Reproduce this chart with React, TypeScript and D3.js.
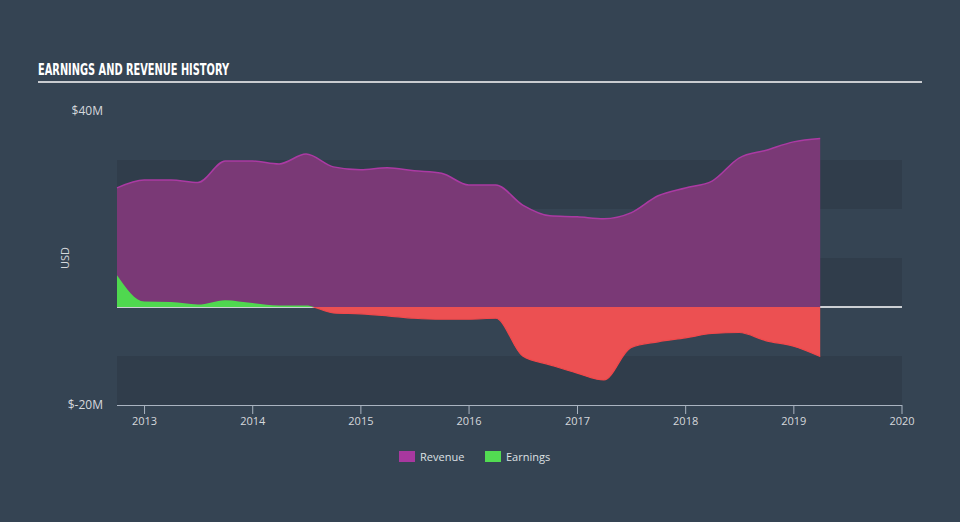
import React from "react";
import * as d3 from "d3";

const dates = [
  "2012-09-30", "2012-12-31", "2013-03-31", "2013-06-30", "2013-09-30", "2013-12-31",
  "2014-03-31", "2014-06-30", "2014-09-30", "2014-12-31", "2015-03-31", "2015-06-30",
  "2015-09-30", "2015-12-31", "2016-03-31", "2016-06-30", "2016-09-30", "2016-12-31",
  "2017-03-31", "2017-06-30", "2017-09-30", "2017-12-31", "2018-03-31", "2018-06-30",
  "2018-09-30", "2018-12-31", "2019-03-31",
];
const revenue = [
  24.3, 25.9, 25.9, 25.4, 29.8, 29.8, 29.2, 31.2, 28.6, 28.0, 28.4, 27.8, 27.3, 24.9,
  24.9, 20.8, 18.6, 18.4, 18.0, 19.2, 22.7, 24.3, 25.7, 30.4, 32.0, 33.7, 34.4,
];
const earnings = [
  6.5, 1.1, 1.0, 0.5, 1.4, 0.8, 0.3, 0.3, -1.2, -1.4, -1.8, -2.3, -2.5, -2.5, -2.3,
  -10.0, -11.8, -13.5, -14.9, -8.3, -7.1, -6.3, -5.4, -5.2, -6.9, -8.0, -10.1,
];
const yTickLabels = [
  { v: 40, t: "$40M" },
  { v: -20, t: "$-20M" },
];
const xTickYears = [2013, 2014, 2015, 2016, 2017, 2018, 2019, 2020];
const legendItems = [
  { name: "Revenue", color: "#a8389f" },
  { name: "Earnings", color: "#52dc52" },
];

const W = 960;
const H = 522;
const BG = "#354453";
const BAND = "#303d4b";
const FONT = "'Open Sans', 'Noto Sans', sans-serif";

export default function App() {
  const parse = d3.timeParse("%Y-%m-%d");
  const data = dates.map((d, i) => ({
    date: parse(d) as Date,
    rev: revenue[i],
    earn: earnings[i],
  }));

  const x = d3
    .scaleTime()
    .domain([parse("2012-09-30") as Date, new Date(2020, 0, 1)])
    .range([117, 902]);
  const y = d3.scaleLinear().domain([-20, 40]).range([405, 111]);
  const y0 = y(0);

  const revArea = d3
    .area<any>()
    .x((d) => x(d.date))
    .y0(y0)
    .y1((d) => y(d.rev))
    .curve(d3.curveMonotoneX);
  const revLine = d3
    .line<any>()
    .x((d) => x(d.date))
    .y((d) => y(d.rev))
    .curve(d3.curveMonotoneX);
  const earnArea = d3
    .area<any>()
    .x((d) => x(d.date))
    .y0(y0)
    .y1((d) => y(d.earn))
    .curve(d3.curveMonotoneX);
  const earnLine = d3
    .line<any>()
    .x((d) => x(d.date))
    .y((d) => y(d.earn))
    .curve(d3.curveMonotoneX);

  const bands = [-20, -10, 0, 10, 20];

  return (
    <svg
      width={W}
      height={H}
      style={{ position: "absolute", left: 0, top: 0, display: "block" }}
    >
      <defs>
        <clipPath id="above">
          <rect x={0} y={0} width={W} height={y0} />
        </clipPath>
        <clipPath id="below">
          <rect x={0} y={y0} width={W} height={H - y0} />
        </clipPath>
      </defs>
      <rect x={0} y={0} width={W} height={H} fill={BG} />

      <text
        x={38}
        y={75}
        fill="#ffffff"
        fontFamily="'DejaVu Sans Condensed', 'Liberation Sans Narrow', 'DejaVu Sans', sans-serif"
        fontWeight="bold"
        fontSize={15}
        textLength={191}
        lengthAdjust="spacingAndGlyphs"
      >
        EARNINGS AND REVENUE HISTORY
      </text>
      <rect x={38} y={81} width={884} height={2} fill="#c9ccd0" />

      {bands.map((b, i) => (
        <rect
          key={b}
          x={117}
          y={y(b + 10)}
          width={902 - 117}
          height={y(b) - y(b + 10)}
          fill={i % 2 === 0 ? BAND : BG}
        />
      ))}

      <line x1={117} x2={902} y1={y0} y2={y0} stroke="#ffffff" strokeWidth={1.5} />

      <path d={revArea(data) || ""} fill="#7a3976" />
      <path d={revLine(data) || ""} fill="none" stroke="#ab3aa3" strokeWidth={1.5} />

      <path d={earnArea(data) || ""} fill="#4fd84f" clipPath="url(#above)" />
      <path d={earnArea(data) || ""} fill="#ec5052" clipPath="url(#below)" />
      <path
        d={earnLine(data) || ""}
        fill="none"
        stroke="#f0484b"
        strokeWidth={1.2}
        clipPath="url(#below)"
      />

      {yTickLabels.map((t) => (
        <text
          key={t.v}
          x={103}
          y={y(t.v) + 4}
          textAnchor="end"
          fill="#d5d8dc"
          fontFamily={FONT}
          fontSize={12}
        >
          {t.t}
        </text>
      ))}
      <text
        transform={`translate(69,${y(10)}) rotate(-90)`}
        textAnchor="middle"
        fill="#d5d8dc"
        fontFamily={FONT}
        fontSize={11}
      >
        USD
      </text>

      <line x1={117} x2={902} y1={405.5} y2={405.5} stroke="#aab4c1" strokeWidth={1} />
      {xTickYears.map((yr) => {
        const xx = x(new Date(yr, 0, 1));
        return (
          <g key={yr}>
            <line x1={xx} x2={xx} y1={405} y2={414} stroke="#aab4c1" strokeWidth={1} />
            <text
              x={xx}
              y={425}
              textAnchor="middle"
              fill="#d5d8dc"
              fontFamily={FONT}
              fontSize={11}
            >
              {yr}
            </text>
          </g>
        );
      })}

      {legendItems.map((it, i) => {
        const lx = i === 0 ? 399 : 485;
        return (
          <g key={it.name}>
            <rect x={lx} y={451} width={16} height={11} fill={it.color} />
            <text
              x={lx + 21}
              y={460.5}
              fill="#dde0e3"
              fontFamily={FONT}
              fontSize={11}
            >
              {it.name}
            </text>
          </g>
        );
      })}
    </svg>
  );
}
